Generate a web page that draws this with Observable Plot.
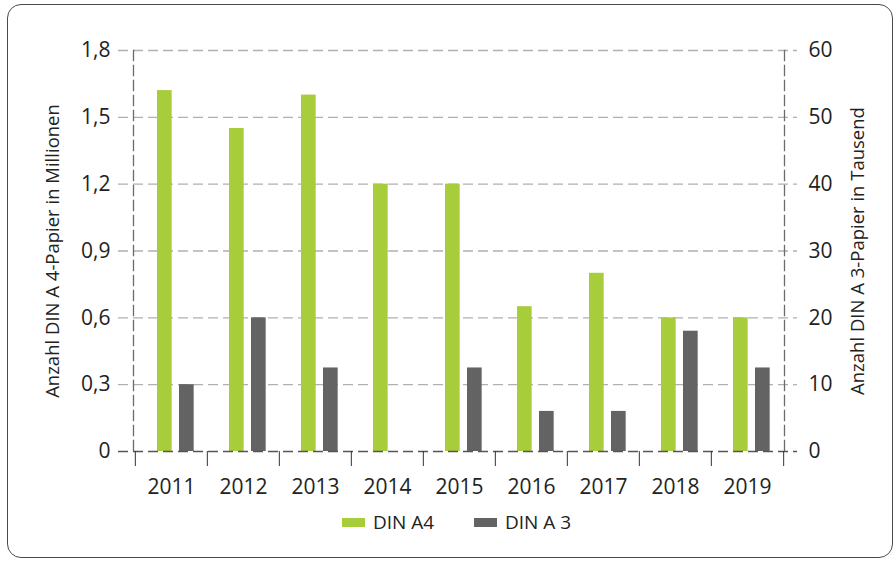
<!DOCTYPE html>
<html><head><meta charset="utf-8">
<script src="https://cdn.jsdelivr.net/npm/d3@7"></script>
<script src="https://cdn.jsdelivr.net/npm/@observablehq/plot@0.6"></script>
<style>
body{margin:0;background:#fff;font-family:"Open Sans",sans-serif;}
#wrap{position:relative;width:894px;height:561px;overflow:hidden}
#border{position:absolute;left:7px;top:4px;width:886px;height:554px;border:1.5px solid #4a4a4a;border-radius:14px;box-sizing:border-box}
#chart{position:absolute;left:0;top:0}
#legend{position:absolute;top:509px;left:0;width:894px;height:26px;font-size:19px;color:#222}
.sw{display:inline-block;width:23px;height:9px;margin-right:8px}
.it{position:absolute;top:0;display:flex;align-items:center;height:26px;white-space:nowrap}
</style></head>
<body><div id="wrap"><div id="border"></div><div id="chart"></div><div id="legend"></div></div>
<script>
const years = ["2011","2012","2013","2014","2015","2016","2017","2018","2019"];
const a4Mio = [1.62,1.45,1.60,1.20,1.20,0.65,0.80,0.60,0.60];
const a3Tsd = [10,20,12.5,0,12.5,6,6,18,12.5];
const leftTicks = [0,0.3,0.6,0.9,1.2,1.5,1.8];
const rightTicks = [0,10,20,30,40,50,60];
const seriesNames = ["DIN A4","DIN A 3"];
const colors = ["#a8cd3a","#636363"];
const titleLeft = "Anzahl DIN A 4-Papier in Millionen";
const titleRight = "Anzahl DIN A 3-Papier in Tausend";

const W = 894, H = 500, mL = 133, mR = 110, mT = 50, mB = 49;
const step = (W - mL - mR) / years.length;
const ratio = leftTicks[leftTicks.length-1] / rightTicks[rightTicks.length-1];
const data = years.map((y,i)=>({year:y, a4:a4Mio[i], a3:a3Tsd[i]}));
const fmtL = d => d === 0 ? "0" : d.toFixed(1).replace(".", ",");

const plot = Plot.plot({
  width: W, height: H, marginLeft: mL, marginRight: mR, marginTop: mT, marginBottom: mB,
  style: {fontFamily: "'Open Sans', sans-serif", color: "#222", background: "transparent"},
  x: {domain: years, padding: 0},
  y: {domain: [0, 1.8]},
  marks: [
    Plot.ruleY(leftTicks.slice(1), {stroke: "#b0b0b0", strokeWidth: 1.3, strokeDasharray: "10,5", insetLeft: -15, insetRight: -13}),
    Plot.frame({anchor: "left", stroke: "#6b6b6b", strokeWidth: 1.3, strokeDasharray: "10,5"}),
    Plot.frame({anchor: "right", stroke: "#6b6b6b", strokeWidth: 1.3, strokeDasharray: "10,5"}),
    Plot.barY(data, {x: "year", y: "a4", fill: colors[0], insetLeft: 22, insetRight: step - 37}),
    Plot.barY(data, {x: "year", y: d => d.a3 * ratio, fill: colors[1], insetLeft: 44, insetRight: step - 59}),
    Plot.ruleY([0], {stroke: "#555", strokeWidth: 1.3, strokeDasharray: "10,5", insetLeft: -15, insetRight: -13}),
    Plot.axisX(years, {tickSize: 15, tickFormat: () => "", dx: -step/2, stroke: "#333", label: null}),
    Plot.axisX([years[years.length-1]], {tickSize: 15, tickFormat: () => "", dx: step/2, stroke: "#333", label: null}),
    Plot.axisX(years, {tickSize: 0, tickPadding: 28, fontSize: 21, label: null}),
    Plot.axisY(leftTicks, {anchor: "left", tickSize: 0, tickPadding: 23, fontSize: 21, tickFormat: fmtL, label: null}),
    Plot.axisY(leftTicks, {anchor: "left", tickSize: 0, tickFormat: () => "", fontSize: 18.5,
      label: titleLeft, labelAnchor: "center", labelArrow: "none", labelOffset: 88}),
    Plot.axisY(rightTicks.map(t => t * ratio), {anchor: "right", tickSize: 0, tickPadding: 24, fontSize: 21,
      tickFormat: d => String(Math.round(d / ratio)), label: null}),
    Plot.axisY(rightTicks.map(t => t * ratio), {anchor: "right", tickSize: 0, tickFormat: () => "", fontSize: 18.5,
      label: titleRight, labelAnchor: "center", labelArrow: "none", labelOffset: 79})
  ]
});
document.getElementById("chart").appendChild(plot);

const lg = d3.select("#legend");
const legendLeft = [342, 474];
seriesNames.forEach((n,i)=>{
  const it = lg.append("div").attr("class","it").style("left", legendLeft[i] + "px");
  it.append("span").attr("class","sw").style("background", colors[i]);
  it.append("span").text(n);
});
</script></body></html>
